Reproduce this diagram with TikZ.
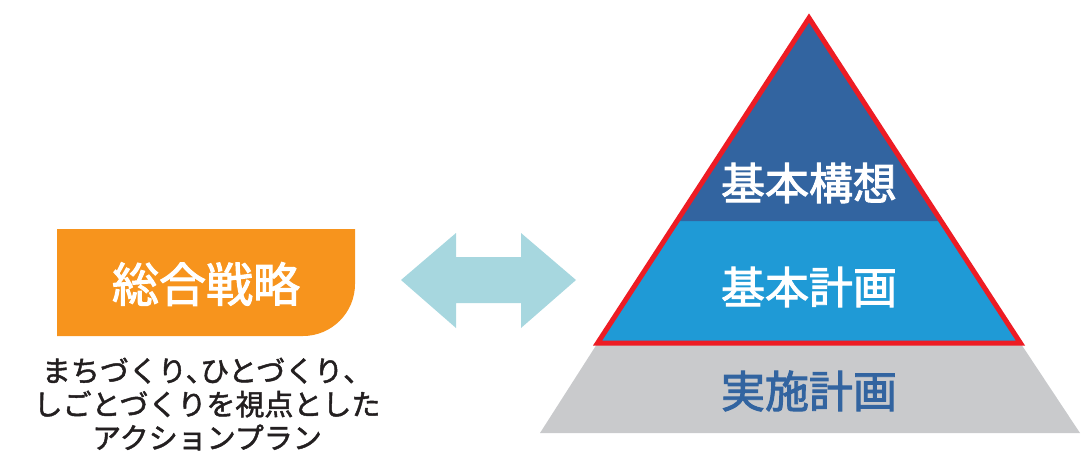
\documentclass[tikz,border=0pt]{standalone}
\usepackage{fontspec}
\setmainfont{Noto Sans CJK JP}
\newfontfamily\jpmed{Noto Sans CJK JP}[FakeBold=2.2]
\newfontfamily\jpcap{Noto Sans CJK JP}[FakeBold=1.6,RawFeature=+halt]
\newfontfamily\jpcapw{Noto Sans CJK JP}[FakeBold=1.6]
\definecolor{cOrange}{HTML}{F7941D}
\definecolor{cDark}{HTML}{3264A0}
\definecolor{cLight}{HTML}{1F9AD6}
\definecolor{cGray}{HTML}{C9CACC}
\definecolor{cRed}{HTML}{ED1C24}
\definecolor{cArrow}{HTML}{A7D7DF}
\definecolor{cText}{HTML}{231F20}
\tikzset{
  title/.style={text=white, font=\jpmed\fontsize{47}{50}\selectfont, inner sep=0pt},
  level/.style={text=white, font=\jpmed\fontsize{44}{48}\selectfont, inner sep=0pt},
  caption/.style={text=cText, font=\jpcap\fontsize{29}{33.5}\selectfont, align=center, inner sep=0pt}
}
\begin{document}
\begin{tikzpicture}[x=1pt,y=-1pt]
\useasboundingbox (0,0) rectangle (1081,458);
% orange box
\fill[cOrange] (57,229) -- (355,229) -- (355,284) .. controls (355,312.7) and (331.7,336) .. (303,336) -- (57,336) -- cycle;
\node[title] (strategy) at (206,284) {総合戦略};
\node[caption] (desc) at (207,404) {まちづくり、ひとづくり{\jpcapw 、}\\しごとづくりを視点とした\\アクションプラン};
% double arrow
\fill[cArrow] (401,280) -- (456,233) -- (456,257) -- (521,257) -- (521,233) -- (576,280) -- (521,328) -- (521,303) -- (456,303) -- (456,328) -- cycle;
% pyramid
\coordinate (apex) at (809,18);
\coordinate (bl) at (540,433);
\coordinate (br) at (1080,433);
\coordinate (ml) at (597.6,343);
\coordinate (mr) at (1020.4,343);
\coordinate (tl) at (677,221);
\coordinate (tr) at (941,221);
\fill[cGray] (ml) -- (mr) -- (br) -- (bl) -- cycle;
\fill[cLight] (tl) -- (tr) -- (mr) -- (ml) -- cycle;
\fill[cDark] (apex) -- (tr) -- (tl) -- cycle;
\draw[cRed, line width=5pt, line join=miter] (apex) -- (mr) -- (ml) -- cycle;
\node[level] (vision) at (809,183) {基本構想};
\node[level] (basic) at (809,287) {基本計画};
\node[level, text=cDark] (impl) at (809,391) {実施計画};
\end{tikzpicture}
\end{document}
